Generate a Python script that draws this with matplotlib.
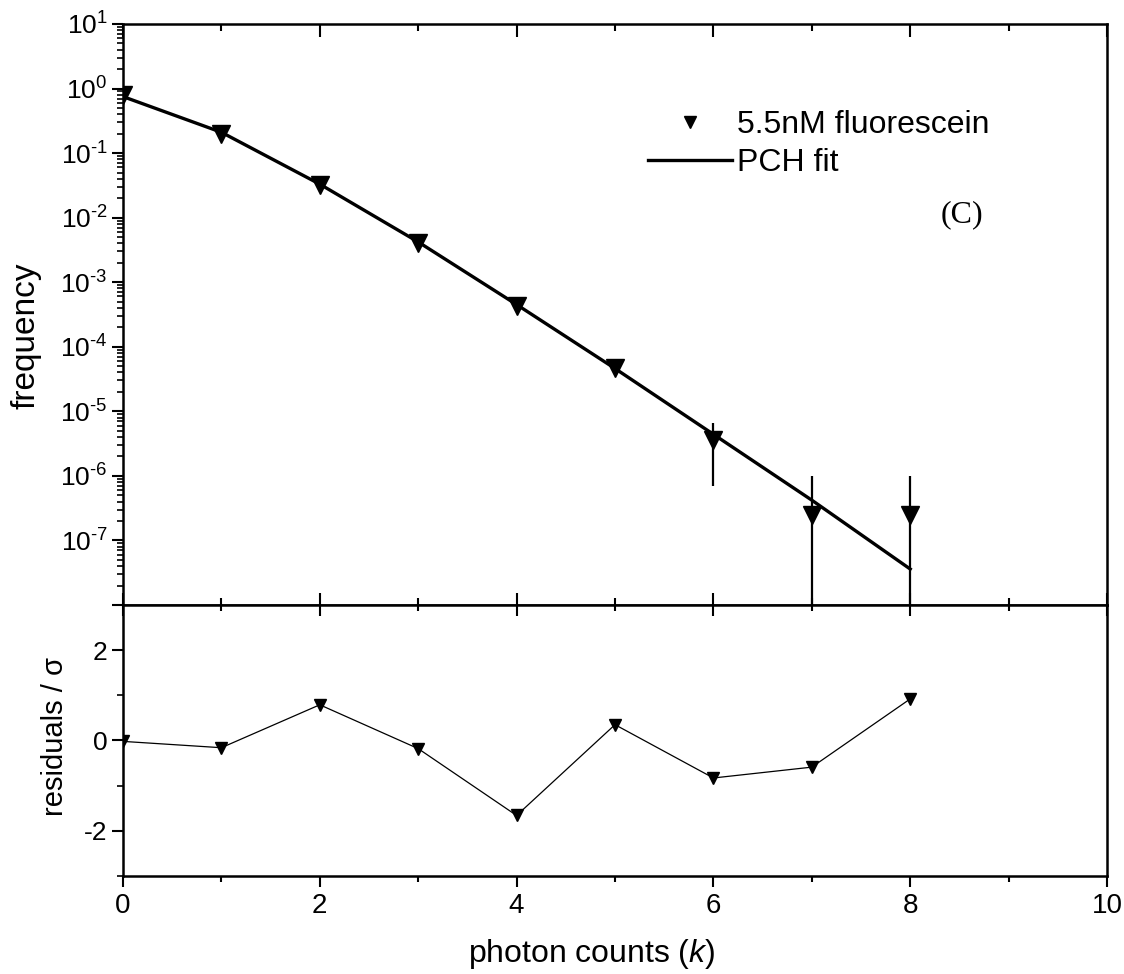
import matplotlib
matplotlib.use("Agg")
import matplotlib.pyplot as plt
from matplotlib.ticker import MultipleLocator, LogLocator, FixedLocator, NullFormatter

plt.rcParams['font.family'] = ['Liberation Sans', 'DejaVu Sans']
plt.rcParams['mathtext.fontset'] = 'custom'
plt.rcParams['mathtext.rm'] = 'Liberation Sans'
plt.rcParams['mathtext.it'] = 'Liberation Sans:italic'
plt.rcParams['axes.unicode_minus'] = False

# photon counting histogram, 5.5 nM fluorescein
k = [0, 1, 2, 3, 4, 5, 6, 7, 8]
freq = [0.78, 0.20, 0.032, 0.0041, 4.2e-4, 4.7e-5, 3.6e-6, 2.5e-7, 2.5e-7]
freq_err = [0.002, 0.001, 3e-4, 6e-5, 1.2e-5, 4e-6, 2.9e-6, 7.5e-7, 7.5e-7]
fit = [0.75, 0.21, 0.033, 0.0042, 4.5e-4, 4.6e-5, 4.4e-6, 4.2e-7, 3.6e-8]
resid = [-0.02, -0.16, 0.79, -0.18, -1.66, 0.35, -0.83, -0.59, 0.92]

decades = [1e1, 1e0, 1e-1, 1e-2, 1e-3, 1e-4, 1e-5, 1e-6, 1e-7, 1e-8]
exponents = ['1', '0', '-1', '-2', '-3', '-4', '-5', '-6', '-7']
decade_labels = [r'$\mathdefault{10^{\text{%s}}}$' % e for e in exponents] + ['']

fig = plt.figure(figsize=(11.24, 9.74), dpi=100)
ax = fig.add_axes([0.1094, 0.3789, 0.8755, 0.5965])
axr = fig.add_axes([0.1094, 0.1006, 0.8755, 0.2783], sharex=ax)

for a in (ax, axr):
    for s in a.spines.values():
        s.set_linewidth(1.8)

# upper panel: histogram with error bars and fit
ax.set_yscale('log', nonpositive='clip')
ax.errorbar(k, freq, yerr=freq_err, fmt='none', ecolor='black', elinewidth=1.6, capsize=0)
pts, = ax.plot(k, freq, 'v', color='black', markersize=13, ls='none', label='5.5nM fluorescein')
fitline, = ax.plot(k, fit, '-', color='black', lw=2.4, label='PCH fit')
ax.set_xlim(0, 10)
ax.set_ylim(1e-8, 1e1)
ax.yaxis.set_major_locator(FixedLocator(decades))
ax.set_yticklabels(decade_labels)
ax.yaxis.set_minor_locator(LogLocator(base=10, subs=range(2, 10), numticks=20))
ax.yaxis.set_minor_formatter(NullFormatter())
ax.tick_params(axis='y', which='major', direction='out', length=8, width=1.5, labelsize=19, pad=3)
ax.tick_params(axis='y', which='minor', direction='out', length=4, width=1.2)
ax.tick_params(axis='x', which='both', top=True, bottom=True, direction='in', labelbottom=False, width=1.5)
ax.tick_params(axis='x', which='major', length=9)
ax.tick_params(axis='x', which='minor', length=5)
ax.set_ylabel('frequency', fontsize=24)
ax.yaxis.set_label_coords(-0.083, 0.463)

ax.legend(handles=[pts, fitline], loc='upper left', bbox_to_anchor=(0.534, 0.852),
          frameon=False, fontsize=23, handlelength=2.6, handletextpad=0.16,
          labelspacing=0.26, borderpad=0, borderaxespad=0, numpoints=1, markerscale=0.7)
ax.text(0.853, 0.671, '(C)', transform=ax.transAxes, ha='center', va='center',
        fontsize=23, family='Liberation Serif')

# lower panel: normalised residuals
axr.plot(k, resid, '-', color='black', lw=0.9, marker='v', markersize=9)
axr.set_ylim(-3, 3)
axr.yaxis.set_major_locator(MultipleLocator(2))
axr.yaxis.set_minor_locator(MultipleLocator(1))
axr.xaxis.set_major_locator(MultipleLocator(2))
axr.xaxis.set_minor_locator(MultipleLocator(1))
axr.tick_params(axis='y', which='major', direction='out', length=8, width=1.5, labelsize=19, pad=3)
axr.tick_params(axis='y', which='minor', direction='out', length=4, width=1.2)
axr.tick_params(axis='x', which='both', top=True, direction='out', width=1.5, labelsize=20, pad=4)
axr.tick_params(axis='x', which='major', length=8)
axr.tick_params(axis='x', which='minor', length=4)
for t in axr.xaxis.get_major_ticks() + axr.xaxis.get_minor_ticks():
    t.tick2line.set_marker(3)
axr.set_ylabel('residuals / σ', fontsize=21)
axr.yaxis.set_label_coords(-0.055, 0.513)
axr.set_xlabel('photon counts ($\\mathit{k}$)', fontsize=23)
axr.xaxis.set_label_coords(0.476, -0.225)

fig.savefig('out.png', dpi=100)
